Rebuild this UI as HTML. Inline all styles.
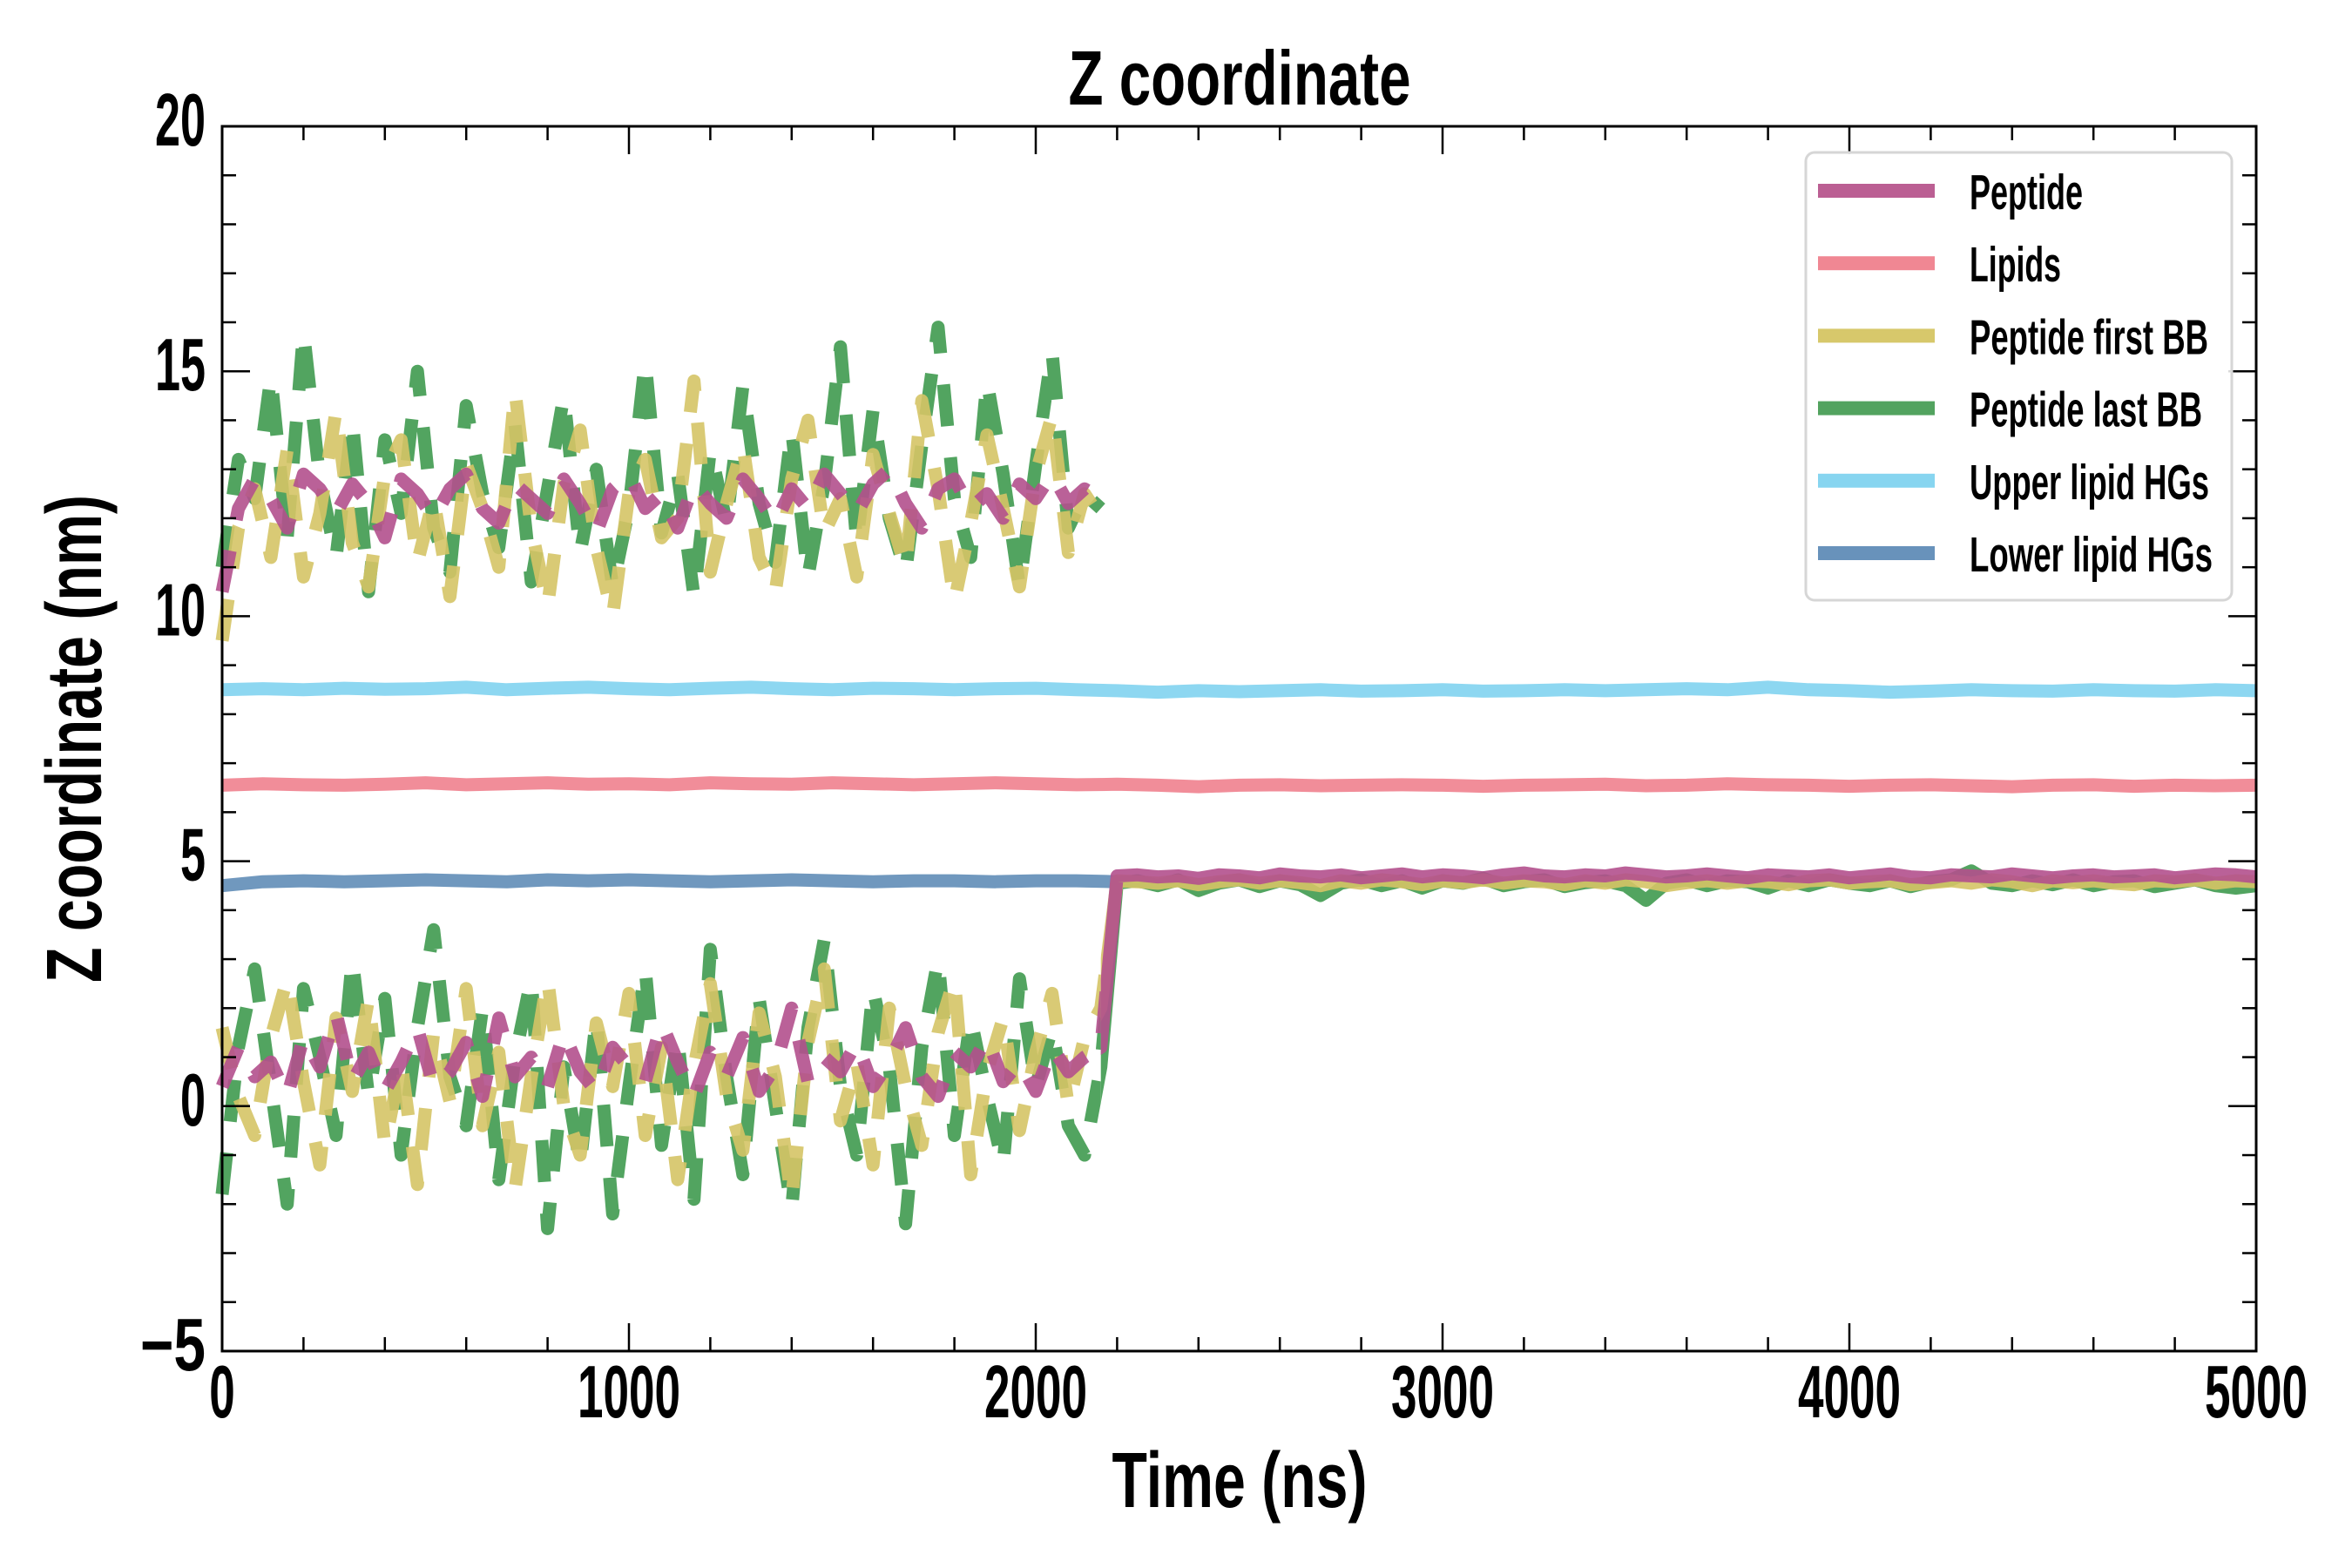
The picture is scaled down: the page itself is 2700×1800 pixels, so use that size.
<!DOCTYPE html>
<html><head><meta charset="utf-8"><style>
html,body{margin:0;padding:0;background:#fff;}
svg{display:block;font-family:"Liberation Sans",sans-serif;font-weight:bold;}
</style></head><body>
<svg id="chart" width="2700" height="1800" viewBox="0 0 2700 1800" xmlns="http://www.w3.org/2000/svg">
<rect width="2700" height="1800" fill="#fff"/>
<g id="series"></g>
<g id="axes"></g>
<g id="legend"></g>
</svg>
<script>
const xTicks = [0,1000,2000,3000,4000,5000];
const xTickLabels = ["0","1000","2000","3000","4000","5000"];
const yTicks = [-5,0,5,10,15,20];
const yTickLabels = ["\u22125","0","5","10","15","20"];
const earlyStep = 40;
const lateStart = 2200;
const lateStep = 50;
const flatStep = 100;
const peptideUpper = [10.5,12.2,12.8,12.4,11.8,12.9,12.6,12.1,12.7,12.3,11.6,12.8,12.5,12.0,12.6,12.9,12.2,11.9,12.7,12.4,12.1,12.8,12.3,11.7,12.6,12.9,12.2,12.5,11.8,12.7,12.3,12.0,12.8,12.4,11.9,12.6,12.2,12.9,12.5,12.1,12.7,13.0,12.3,11.8,12.6,12.8,12.2,12.5,12.0,12.7,12.4,12.9,12.3,12.6,12.4];
const firstUpper = [9.5,11.8,12.6,11.2,13.4,10.8,12.1,14.2,11.5,10.6,12.9,13.6,11.1,12.4,10.4,13.1,12.2,11.0,14.6,11.8,10.2,12.7,13.8,11.4,10.0,12.5,13.2,11.6,12.0,14.8,10.9,12.3,13.5,11.2,10.5,12.8,14.0,11.7,12.4,10.8,13.3,12.1,11.0,14.4,12.6,10.3,11.9,13.7,12.2,10.6,12.9,14.1,11.3,12.5,12.0];
const lastUpper = [11.0,13.2,12.4,14.9,11.6,15.8,12.8,11.2,14.0,10.5,13.6,12.1,15.0,11.8,10.9,14.3,12.5,11.4,13.9,10.7,12.6,14.5,11.3,13.0,10.6,12.2,15.2,11.7,12.9,10.4,13.4,11.9,14.7,12.3,11.1,13.8,10.8,12.7,15.5,11.5,14.2,12.0,10.9,13.5,15.9,12.4,11.2,14.8,12.9,10.6,13.1,15.4,11.8,12.5,12.2];
const peptideLower = [0.4,1.2,0.6,0.9,0.2,1.4,0.8,1.9,0.5,1.1,0.3,0.9,1.6,0.4,0.7,1.3,0.2,1.8,0.6,1.0,0.4,1.5,0.7,0.3,1.2,0.8,0.5,1.7,0.9,0.2,1.1,0.6,1.4,0.3,0.8,2.0,0.5,1.0,0.7,1.3,0.4,0.9,1.6,0.6,0.2,1.1,0.8,1.4,0.5,0.9,0.3,1.2,0.7,1.0,1.2];
const firstLower = [1.6,0.2,-0.6,1.4,2.6,0.5,-1.2,1.8,0.3,2.2,-0.8,0.9,-1.6,1.5,0.1,2.4,-0.4,1.1,-1.7,0.6,2.6,0.0,-1.0,1.7,0.4,2.3,-0.6,1.2,-1.5,0.8,2.5,0.2,-0.9,1.9,0.6,-1.9,1.3,2.8,-0.3,0.9,-1.2,2.0,0.4,-0.8,1.5,2.6,-1.4,0.7,1.8,-0.5,1.1,2.3,0.0,1.4,2.0];
const lastLower = [-1.8,1.2,2.8,0.4,-2.0,2.4,1.0,-0.6,3.0,0.2,2.2,-1.0,1.6,3.6,0.6,-0.4,2.0,-1.5,1.0,2.6,-2.5,0.8,-1.2,1.8,-2.2,0.4,2.8,-0.8,1.4,-1.9,3.2,0.6,-1.4,2.2,0.0,-2.1,1.6,3.4,0.4,-1.0,2.4,0.8,-2.4,1.2,3.0,-0.6,1.8,0.2,-1.2,2.6,0.4,1.6,-0.4,-1.0,0.8];
const peptideLate = [4.7,4.72,4.68,4.7,4.65,4.72,4.7,4.66,4.74,4.7,4.68,4.72,4.66,4.7,4.74,4.68,4.72,4.7,4.66,4.72,4.76,4.7,4.68,4.72,4.7,4.76,4.72,4.68,4.7,4.74,4.7,4.66,4.72,4.7,4.68,4.72,4.66,4.7,4.74,4.68,4.66,4.72,4.7,4.68,4.74,4.7,4.66,4.7,4.72,4.68,4.7,4.72,4.66,4.7,4.74,4.72,4.68];
const firstLate = [4.6,4.58,4.55,4.6,4.52,4.58,4.62,4.55,4.6,4.56,4.5,4.6,4.55,4.62,4.58,4.52,4.6,4.56,4.62,4.55,4.6,4.58,4.52,4.6,4.55,4.62,4.58,4.5,4.56,4.6,4.55,4.6,4.58,4.52,4.6,4.62,4.55,4.58,4.6,4.52,4.56,4.6,4.55,4.62,4.58,4.5,4.6,4.56,4.6,4.55,4.52,4.6,4.58,4.62,4.55,4.6,4.58];
const lastLate = [4.55,4.6,4.5,4.62,4.4,4.55,4.62,4.48,4.6,4.52,4.3,4.55,4.62,4.5,4.6,4.45,4.6,4.55,4.65,4.5,4.58,4.62,4.48,4.56,4.6,4.5,4.2,4.55,4.62,4.5,4.6,4.58,4.45,4.6,4.5,4.62,4.55,4.5,4.6,4.48,4.58,4.62,4.8,4.55,4.5,4.6,4.52,4.62,4.5,4.58,4.6,4.48,4.55,4.62,4.5,4.45,4.5];
const lipidsFlat = [6.55,6.58,6.56,6.55,6.57,6.6,6.56,6.58,6.6,6.57,6.58,6.56,6.6,6.58,6.57,6.6,6.58,6.56,6.58,6.6,6.58,6.56,6.57,6.55,6.52,6.55,6.56,6.54,6.55,6.56,6.55,6.53,6.55,6.56,6.57,6.54,6.55,6.58,6.56,6.55,6.53,6.55,6.56,6.54,6.52,6.55,6.56,6.53,6.55,6.54,6.55];
const upperFlat = [8.5,8.52,8.5,8.53,8.51,8.52,8.55,8.5,8.53,8.55,8.52,8.5,8.53,8.55,8.52,8.5,8.53,8.52,8.5,8.52,8.53,8.5,8.48,8.45,8.48,8.46,8.48,8.5,8.47,8.48,8.5,8.47,8.48,8.5,8.48,8.5,8.52,8.5,8.55,8.5,8.48,8.45,8.47,8.5,8.48,8.47,8.5,8.48,8.47,8.5,8.48];
const lowerFlat = [4.5,4.58,4.6,4.58,4.6,4.62,4.6,4.58,4.62,4.6,4.62,4.6,4.58,4.6,4.62,4.6,4.58,4.6,4.6,4.58,4.6,4.6,4.58];

const X0=255, X1=2590, Y0=1551, Y1=145;
const xScale = t => X0 + (t-0)/(5000-0)*(X1-X0);
const yScale = v => Y0 - (v-(-5))/(20-(-5))*(Y0-Y1);
const NS="http://www.w3.org/2000/svg";
const S=document.getElementById('series'), A=document.getElementById('axes'), L=document.getElementById('legend');
const C={pep:"#b3508d",lip:"#f08793",first:"#d5c466",last:"#3f9a4f",up:"#87d5f0",low:"#6892bb"};
function pathD(vals,start,step){return vals.map((v,i)=>(i?'L':'M')+xScale(start+i*step).toFixed(1)+','+yScale(v).toFixed(1)).join('');}
function addPath(d,color,dash,op){const p=document.createElementNS(NS,'path');p.setAttribute('d',d);p.setAttribute('fill','none');p.setAttribute('stroke',color);p.setAttribute('stroke-width','15');p.setAttribute('stroke-opacity',op);p.setAttribute('stroke-linejoin','round');if(dash)p.setAttribute('stroke-dasharray',dash);S.appendChild(p);return p;}
let p;
p=addPath(pathD(lowerFlat,0,flatStep),C.low,null,0.95);


p=addPath(pathD(upperFlat,0,flatStep),C.up,null,0.95);


p=addPath(pathD(lipidsFlat,0,flatStep),C.lip,null,0.95);


const D="48 36";
p=addPath(pathD(lastUpper,0,earlyStep),C.last,D,0.9);


p=addPath(pathD(firstUpper,0,earlyStep),C.first,D,0.9);


p=addPath(pathD(peptideUpper,0,earlyStep),C.pep,D,0.9);


p=addPath(pathD(lastLower,0,earlyStep)+pathD(lastLate,lateStart,lateStep).replace('M','L'),C.last,null,0.9);


p=addPath(pathD(firstLower,0,earlyStep)+pathD(firstLate,lateStart,lateStep).replace('M','L'),C.first,null,0.9);


p=addPath(pathD(peptideLower,0,earlyStep)+pathD(peptideLate,lateStart,lateStep).replace('M','L'),C.pep,null,0.9);


(function(){
  const defs=document.createElementNS(NS,'defs');
  const cp=document.createElementNS(NS,'clipPath');cp.setAttribute('id','lateClip');
  const r=document.createElementNS(NS,'rect');r.setAttribute('x',xScale(2160));r.setAttribute('y',0);r.setAttribute('width',2700);r.setAttribute('height',1800);
  cp.appendChild(r);defs.appendChild(cp);document.getElementById('chart').insertBefore(defs,S);
  const cp2=document.createElementNS(NS,'clipPath');cp2.setAttribute('id','earlyClip');
  const r2=document.createElementNS(NS,'rect');r2.setAttribute('x',0);r2.setAttribute('y',0);r2.setAttribute('width',xScale(2160));r2.setAttribute('height',1800);
  cp2.appendChild(r2);defs.appendChild(cp2);
  const lowers=[...S.querySelectorAll('path')].slice(6);
  lowers.forEach(el=>{const c=el.cloneNode();c.setAttribute('stroke-dasharray',D);c.setAttribute('clip-path','url(#earlyClip)');el.setAttribute('clip-path','url(#lateClip)');S.insertBefore(c,el);});
})();
const fr=document.createElementNS(NS,'rect');
fr.setAttribute('x',X0);fr.setAttribute('y',Y1);fr.setAttribute('width',X1-X0);fr.setAttribute('height',Y0-Y1);
fr.setAttribute('fill','none');fr.setAttribute('stroke','#000');fr.setAttribute('stroke-width','3');


A.appendChild(fr);
function line(x1,y1,x2,y2){const l=document.createElementNS(NS,'line');l.setAttribute('x1',x1);l.setAttribute('y1',y1);l.setAttribute('x2',x2);l.setAttribute('y2',y2);l.setAttribute('stroke','#000');l.setAttribute('stroke-width','2.5');A.appendChild(l);return l;}
for(let t=0;t<=5000;t+=200){const major=t%1000===0;const len=major?32:16;const x=xScale(t);
  let a=line(x,Y0,x,Y0-len);
  a=line(x,Y1,x,Y1+len);}
for(let v=-5;v<=20;v+=1){const major=v%5===0;const len=major?32:16;const y=yScale(v);
  let a=line(X0,y,X0+len,y);
  a=line(X1,y,X1-len,y);}
function txt(parent,s,x,y,size,anchor,tl){const t=document.createElementNS(NS,'text');t.textContent=s;t.setAttribute('x',x);t.setAttribute('y',y);t.setAttribute('font-size',size);t.setAttribute('text-anchor',anchor);if(tl){t.setAttribute('textLength',tl);t.setAttribute('lengthAdjust','spacingAndGlyphs');}parent.appendChild(t);return t;}
xTicks.forEach((t,i)=>{const s=xTickLabels[i];const e=txt(A,s,xScale(t),1627,85,'middle',s.length*29.5);
  
  });
yTicks.forEach((v,i)=>{const s=yTickLabels[i];const e=txt(A,s,236,yScale(v)+22,85,'end',s==="\u22125"?75:s.length*29);
  
  });
let e=txt(A,'Z coordinate',1423,120,88,'middle',393);


e=txt(A,'Time (ns)',1423,1730,90,'middle',293);


e=txt(A,'Z coordinate (nm)',0,0,90,'middle',560);
e.setAttribute('transform','translate(116,848) rotate(-90)');


const legendLabels=["Peptide","Lipids","Peptide first BB","Peptide last BB","Upper lipid HGs","Lower lipid HGs"];
const legendColors=["#bb5f93","#f08793","#d7c86b","#52a35f","#87d5f0","#6892bb"];
const legendWidths=[130,105,274,267,275,279];
const lb=document.createElementNS(NS,'rect');
lb.setAttribute('x',2073);lb.setAttribute('y',175);lb.setAttribute('width',489);lb.setAttribute('height',514);lb.setAttribute('rx',10);
lb.setAttribute('fill','#fff');lb.setAttribute('fill-opacity','0.85');lb.setAttribute('stroke','#d6d6d6');lb.setAttribute('stroke-width','3');


L.appendChild(lb);
legendLabels.forEach((s,i)=>{const y=219+i*83.2;
  const g=document.createElementNS(NS,'g');
  
  
  const r=document.createElementNS(NS,'rect');r.setAttribute('x',2087);r.setAttribute('y',y-8);r.setAttribute('width',134);r.setAttribute('height',16);r.setAttribute('fill',legendColors[i]);
  g.appendChild(r);
  txt(g,s,2261,y+21,57,'start',legendWidths[i]);
  L.appendChild(g);});
</script>
</body></html>
